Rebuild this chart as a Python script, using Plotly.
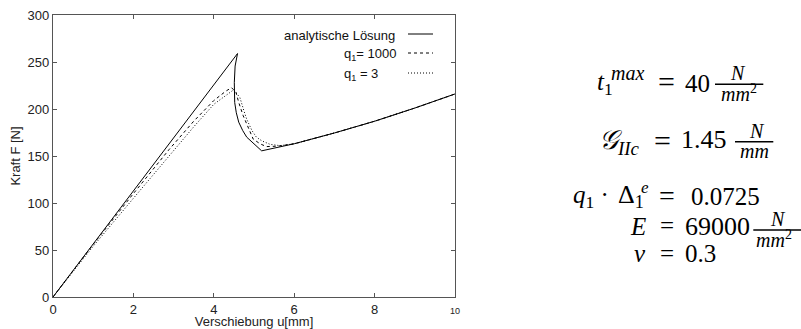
import plotly.graph_objects as go

# ---------------- data ----------------
analytic_u = [0, 4.59, 4.53, 4.51, 4.51, 4.52, 4.56, 4.62, 4.72, 4.82, 5.0, 5.19, 6.0, 7.0, 8.0, 9.0, 10.0]
analytic_F = [0, 259, 245.7, 236, 228, 207, 196, 186, 177, 170, 163, 155.5, 163, 174.5, 187, 201, 216]

q1000_u = [0, 1, 2, 2.89, 3.5, 4.0, 4.3, 4.44, 4.55, 4.62, 4.73, 4.85, 4.98, 5.15, 5.31, 5.6, 6.0, 7.0, 8.0, 9.0, 10.0]
q1000_F = [0, 56, 110, 157, 187, 209, 219, 222.7, 218, 207, 193, 180, 168, 163, 160, 160.5, 163, 174.5, 187, 201, 216]

q3_u = [0, 1, 2, 3.03, 3.5, 4.0, 4.3, 4.48, 4.58, 4.65, 4.75, 4.82, 4.95, 5.06, 5.2, 5.4, 5.65, 6.0, 7.0, 8.0, 9.0, 10.0]
q3_F = [0, 54, 105, 157, 181, 205, 215, 220, 216, 212, 198, 189, 177, 170, 166, 162.4, 161, 163, 174.5, 187, 201, 216]

x_ticks = [0, 2, 4, 6, 8, 10]
x_ticktext = ["0", "2", "4", "6", "8", "<span style='font-size:9px'>10</span>"]
y_ticks = [0, 50, 100, 150, 200, 250, 300]

legend_labels = ["analytische Lösung", "q<sub>1</sub>= 1000", "q<sub>1</sub> = 3"]

# ---------------- layout geometry ----------------
W_FIG, H_FIG = 801, 329
L, R, T, B = 53, 455, 15, 297
PW, PH = R - L, B - T

def px(xp):
    return (xp - L) / PW

def py(yp):
    return (B - yp) / PH

fig = go.Figure()
fig.add_trace(go.Scatter(x=analytic_u, y=analytic_F, mode="lines",
                         line=dict(color="black", width=1), showlegend=False))
fig.add_trace(go.Scatter(x=q1000_u, y=q1000_F, mode="lines",
                         line=dict(color="black", width=1, dash="3px,3px"), showlegend=False))
fig.add_trace(go.Scatter(x=q3_u, y=q3_F, mode="lines",
                         line=dict(color="black", width=1, dash="1px,2px"), showlegend=False))

annotations = []
shapes = []

SANS = "Liberation Sans, Arial, sans-serif"
SERIF = "Liberation Serif, Times New Roman, serif"

# legend (gnuplot style: text left, sample right)
annotations.append(dict(text=legend_labels[0], x=px(397), y=py(35), xref="paper", yref="paper",
                        xanchor="right", yanchor="middle", showarrow=False,
                        font=dict(family=SANS, size=13, color="#111")))
annotations.append(dict(text=legend_labels[1], x=px(342), y=py(54), xref="paper", yref="paper",
                        xanchor="left", yanchor="middle", showarrow=False,
                        font=dict(family=SANS, size=13, color="#111")))
annotations.append(dict(text=legend_labels[2], x=px(342), y=py(74), xref="paper", yref="paper",
                        xanchor="left", yanchor="middle", showarrow=False,
                        font=dict(family=SANS, size=13, color="#111")))
for yy, dash in [(34, "solid"), (53, "3px,3px"), (73, "1px,2px")]:
    shapes.append(dict(type="line", xref="paper", yref="paper", x0=px(408), x1=px(433),
                       y0=py(yy), y1=py(yy), line=dict(color="black", width=1, dash=dash)))

# math block
def txt(s, xp, baseline, size, anchor="left"):
    yc = baseline - 0.3375 * size
    annotations.append(dict(text=s, x=px(xp), y=py(yc), xref="paper", yref="paper",
                            xanchor=anchor, yanchor="middle", showarrow=False, borderpad=0,
                            font=dict(family=SERIF, size=size, color="black")))

def eq(xc, ycenter, size=30):
    baseline = ycenter + 0.29 * size
    txt("=", xc, baseline, size, anchor="center")

def bar(x0, x1, y):
    shapes.append(dict(type="line", xref="paper", yref="paper", x0=px(x0), x1=px(x1),
                       y0=py(y), y1=py(y), line=dict(color="black", width=1.5)))

FR = 20  # fraction font size

# t_1^max = 40 N/mm^2
txt("<i>t</i><sub>1</sub>", 596, 92, 25)
txt("<i>max</i>", 610, 79.5, 20)
eq(666.7, 83.3)
txt("40", 684, 92.3, 25)
bar(715, 763.3, 84.2)
txt("<i>N</i>", 738, 79.5, FR, anchor="center")
txt("<i>mm</i><sup>2</sup>", 739, 99.5, FR, anchor="center")

# G_IIc = 1.45 N/mm
txt("<i>𝒢</i><sub><i>IIc</i></sub>", 598, 151, 27)
eq(662.5, 141.7)
txt("1.45", 680, 148.3, 26)
bar(735, 773.3, 141.7)
txt("<i>N</i>", 756.7, 137.5, FR, anchor="center")
txt("<i>mm</i>", 754, 157.5, FR, anchor="center")

# q1 . Delta_1^e = 0.0725
txt("<i>q</i><sub>1</sub> ·", 572, 205, 25)
txt("Δ<sub>1</sub>", 617, 205, 26)
txt("<i>e</i>", 640, 193.3, 17)
eq(666.7, 196.7, 28)
txt("0.0725", 690, 205, 25)

# E = 69000 N/mm^2
txt("<i>E</i>", 638.3, 235, 25, anchor="center")
eq(666.7, 226.7, 25)
txt("69000", 684, 235, 26)
bar(753.3, 801, 230)
txt("<i>N</i>", 777.5, 226, FR, anchor="center")
txt("<i>mm</i><sup>2</sup>", 755, 246, FR)

# nu = 0.3
txt("<i>ν</i>", 640, 261.7, 25, anchor="center")
eq(666.7, 255, 25)
txt("0.3", 684, 261.7, 25)

axis_common = dict(showline=True, linecolor="#555", linewidth=1.2, mirror="ticks",
                   ticks="inside", ticklen=4, tickwidth=1, tickcolor="#555",
                   showgrid=False, zeroline=False, automargin=False,
                   tickfont=dict(family=SANS, size=13, color="#222"))

fig.update_layout(
    width=W_FIG, height=H_FIG,
    margin=dict(l=L, r=W_FIG - R, t=T, b=H_FIG - B, pad=0, autoexpand=False),
    paper_bgcolor="white", plot_bgcolor="white",
    showlegend=False,
    xaxis=dict(range=[0, 10], tickvals=x_ticks, ticktext=x_ticktext,
               title=dict(text="Verschiebung u[mm]", font=dict(family=SANS, size=13, color="#222"), standoff=3),
               **axis_common),
    yaxis=dict(range=[0, 300], tickvals=y_ticks,
               title=dict(text="Kraft F [N]", font=dict(family=SANS, size=13, color="#222"), standoff=4),
               **axis_common),
    annotations=annotations,
    shapes=shapes,
)

fig.write_html("out.html", config={"displayModeBar": False},
               post_script="document.body.style.margin='0';document.body.style.padding='0';document.body.style.overflow='hidden';")
